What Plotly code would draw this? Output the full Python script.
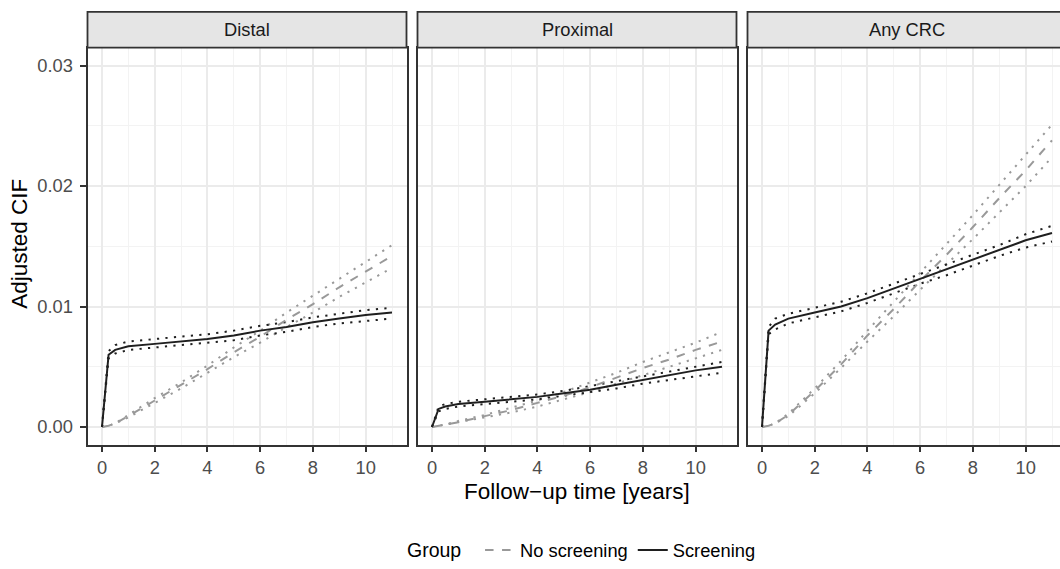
import plotly.graph_objects as go

# ---------------- data ----------------
time = [0, 0.25, 0.5, 1, 2, 3, 4, 5, 6, 7, 8, 9, 10, 11]
panels = ["Distal", "Proximal", "Any CRC"]
groups = ["No screening", "Screening"]

# Distal
distal_noscr = [0, 0.0001, 0.0003, 0.0009, 0.0022, 0.0035, 0.0048, 0.0062, 0.0075, 0.0089, 0.0102, 0.0116, 0.0129, 0.0142]
distal_noscr_hi = [0, 0.0001, 0.0003, 0.0010, 0.0024, 0.0037, 0.0051, 0.0066, 0.0080, 0.0095, 0.0109, 0.0123, 0.0137, 0.0151]
distal_noscr_lo = [0, 0.0001, 0.0003, 0.0008, 0.0020, 0.0032, 0.0045, 0.0058, 0.0070, 0.0083, 0.0095, 0.0108, 0.0120, 0.0132]
distal_scr = [0, 0.0060, 0.0064, 0.0067, 0.0069, 0.0071, 0.0073, 0.0076, 0.0080, 0.0083, 0.0087, 0.0090, 0.0093, 0.0095]
distal_scr_hi = [0, 0.0063, 0.0068, 0.0071, 0.0073, 0.0075, 0.0077, 0.0080, 0.0084, 0.0087, 0.0091, 0.0094, 0.0097, 0.0099]
distal_scr_lo = [0, 0.0057, 0.0061, 0.0064, 0.0066, 0.0068, 0.0070, 0.0072, 0.0076, 0.0079, 0.0083, 0.0086, 0.0088, 0.0090]

# Proximal
prox_noscr = [0, 0.0001, 0.0002, 0.0004, 0.0009, 0.0014, 0.0020, 0.0026, 0.0033, 0.0041, 0.0049, 0.0056, 0.0064, 0.0071]
prox_noscr_hi = [0, 0.0001, 0.0002, 0.0005, 0.0010, 0.0016, 0.0022, 0.0029, 0.0037, 0.0045, 0.0054, 0.0062, 0.0070, 0.0079]
prox_noscr_lo = [0, 0.0001, 0.0002, 0.0004, 0.0008, 0.0012, 0.0017, 0.0023, 0.0029, 0.0036, 0.0043, 0.0050, 0.0057, 0.0064]
prox_scr = [0, 0.0015, 0.0017, 0.0019, 0.0021, 0.0023, 0.0025, 0.0028, 0.0031, 0.0035, 0.0039, 0.0043, 0.0047, 0.0050]
prox_scr_hi = [0, 0.0017, 0.0019, 0.0021, 0.0023, 0.0025, 0.0027, 0.0030, 0.0034, 0.0038, 0.0042, 0.0046, 0.0050, 0.0054]
prox_scr_lo = [0, 0.0013, 0.0015, 0.0017, 0.0019, 0.0021, 0.0023, 0.0026, 0.0029, 0.0032, 0.0036, 0.0039, 0.0042, 0.0045]

# Any CRC
any_noscr = [0, 0.0001, 0.0003, 0.0010, 0.0030, 0.0052, 0.0076, 0.0098, 0.0121, 0.0143, 0.0166, 0.0190, 0.0213, 0.0238]
any_noscr_hi = [0, 0.0001, 0.0003, 0.0011, 0.0032, 0.0055, 0.0080, 0.0104, 0.0128, 0.0152, 0.0176, 0.0201, 0.0226, 0.0251]
any_noscr_lo = [0, 0.0001, 0.0003, 0.0009, 0.0028, 0.0049, 0.0071, 0.0092, 0.0114, 0.0135, 0.0156, 0.0178, 0.0200, 0.0224]
any_scr = [0, 0.0080, 0.0085, 0.0090, 0.0095, 0.0100, 0.0107, 0.0115, 0.0123, 0.0131, 0.0139, 0.0147, 0.0155, 0.0161]
any_scr_hi = [0, 0.0083, 0.0090, 0.0094, 0.0099, 0.0104, 0.0111, 0.0119, 0.0127, 0.0135, 0.0143, 0.0151, 0.0160, 0.0167]
any_scr_lo = [0, 0.0077, 0.0081, 0.0086, 0.0091, 0.0096, 0.0103, 0.0111, 0.0119, 0.0126, 0.0134, 0.0142, 0.0149, 0.0154]

x_ticks = [0, 2, 4, 6, 8, 10]
y_ticks = [0.00, 0.01, 0.02, 0.03]
y_tick_labels = ["0.00", "0.01", "0.02", "0.03"]

panel_data = [
    (distal_noscr, distal_noscr_lo, distal_noscr_hi, distal_scr, distal_scr_lo, distal_scr_hi),
    (prox_noscr, prox_noscr_lo, prox_noscr_hi, prox_scr, prox_scr_lo, prox_scr_hi),
    (any_noscr, any_noscr_lo, any_noscr_hi, any_scr, any_scr_lo, any_scr_hi),
]

# ---------------- style ----------------
W, H = 1060, 569
FONT = "Liberation Sans, Arial, Helvetica, sans-serif"
GRAY = "#999999"
BLACK = "#1f1f1f"
BORDER = "#333333"
DOT = "2.2px,6.3px"
DASH = "8.5px,8.5px"
LW = 2.0

px_x = [(87.5, 406.5), (417.5, 736.5), (747.5, 1060.0)]
y_top_px, y_bot_px = 48, 449
strip_top_px = 12
x_ranges = [[-0.55, 11.55], [-0.55, 11.55], [-0.55, -0.55 + 12.1 * (312.5 / 319.0)]]
y_range = [-0.0015, 0.0315]

fig = go.Figure()

for i, (ns, ns_lo, ns_hi, sc, sc_lo, sc_hi) in enumerate(panel_data):
    xa = "x" if i == 0 else f"x{i+1}"
    ya = "y" if i == 0 else f"y{i+1}"
    for ci in (ns_lo, ns_hi):
        fig.add_trace(go.Scatter(x=time, y=ci, mode="lines", xaxis=xa, yaxis=ya,
                                 line=dict(color=GRAY, width=LW, dash=DOT), showlegend=False, hoverinfo="skip"))
    for ci in (sc_lo, sc_hi):
        fig.add_trace(go.Scatter(x=time, y=ci, mode="lines", xaxis=xa, yaxis=ya,
                                 line=dict(color=BLACK, width=LW, dash=DOT), showlegend=False, hoverinfo="skip"))
    fig.add_trace(go.Scatter(x=time, y=ns, mode="lines", xaxis=xa, yaxis=ya, name=groups[0],
                             line=dict(color=GRAY, width=LW, dash=DASH), showlegend=(i == 0),
                             legendrank=1))
    fig.add_trace(go.Scatter(x=time, y=sc, mode="lines", xaxis=xa, yaxis=ya, name=groups[1],
                             line=dict(color=BLACK, width=LW), showlegend=(i == 0),
                             legendrank=2))

y_domain = [1 - y_bot_px / H, 1 - y_top_px / H]
layout = dict(
    width=W, height=H,
    margin=dict(l=0, r=0, t=0, b=0),
    paper_bgcolor="white", plot_bgcolor="white",
    font=dict(family=FONT, size=18, color="#000000"),
    showlegend=True,
    legend=dict(orientation="h", x=583 / W, xanchor="center", y=1 - 555 / H, yanchor="middle",
                title=dict(text="Group  ", font=dict(size=19.5, color="#000000"), side="left"),
                font=dict(size=18.3, color="#000000"), bgcolor="rgba(0,0,0,0)",
                itemwidth=30, tracegroupgap=0),
)

for i in range(3):
    sx = "" if i == 0 else str(i + 1)
    x0, x1 = px_x[i]
    layout[f"xaxis{sx}"] = dict(
        domain=[x0 / W, min(x1 / W, 1.0)], range=x_ranges[i], anchor=f"y{sx}",
        tickmode="array", tickvals=x_ticks, ticktext=[str(v) for v in x_ticks],
        ticks="outside", ticklen=5, tickwidth=1.8, tickcolor=BORDER,
        tickfont=dict(size=18.3, color="#4d4d4d", family=FONT),
        showgrid=True, gridcolor="#ebebeb", gridwidth=1.6, zeroline=False,
        minor=dict(dtick=1, tick0=0, showgrid=True, gridcolor="#f3f3f3", gridwidth=1),
        showline=True, linecolor=BORDER, linewidth=1.8, mirror=True,
        fixedrange=True,
    )
    layout[f"yaxis{sx}"] = dict(
        domain=y_domain, range=y_range, anchor=f"x{sx}",
        tickmode="array", tickvals=y_ticks, ticktext=y_tick_labels,
        ticks="outside" if i == 0 else "", ticklen=6, tickwidth=1.8, tickcolor=BORDER,
        showticklabels=(i == 0), ticklabelstandoff=3,
        tickfont=dict(size=18.3, color="#4d4d4d", family=FONT),
        showgrid=True, gridcolor="#ebebeb", gridwidth=1.6, zeroline=False,
        minor=dict(dtick=0.005, tick0=0, showgrid=True, gridcolor="#f3f3f3", gridwidth=1),
        showline=True, linecolor=BORDER, linewidth=1.8, mirror=(i < 2),
        fixedrange=True,
    )

fig.update_layout(**layout)

# strips
for i, name in enumerate(panels):
    x0, x1 = px_x[i]
    x1_draw = x1 if i < 2 else 1075.0
    fig.add_shape(type="rect", xref="paper", yref="paper",
                  x0=x0 / W, x1=x1_draw / W, y0=1 - y_top_px / H, y1=1 - strip_top_px / H,
                  fillcolor="#e5e5e5", line=dict(color=BORDER, width=1.8), layer="above")
    fig.add_annotation(text=name, xref="paper", yref="paper",
                       x=((x0 + (x1 if i < 2 else 1066.5)) / 2) / W, y=1 - (strip_top_px + y_top_px) / 2 / H,
                       xanchor="center", yanchor="middle", showarrow=False,
                       font=dict(size=18.3, color="#1a1a1a", family=FONT))

# axis titles
fig.add_annotation(text="Follow\u2212up time [years]", xref="paper", yref="paper",
                   x=577 / W, y=1 - 496 / H, xanchor="center", yanchor="middle", showarrow=False,
                   font=dict(size=22.5, color="#000000", family=FONT))
fig.add_annotation(text="Adjusted CIF", xref="paper", yref="paper",
                   x=20 / W, y=1 - 246 / H, xanchor="center", yanchor="middle", showarrow=False,
                   textangle=-90, font=dict(size=22.5, color="#000000", family=FONT))

fig.write_html("out.html")
